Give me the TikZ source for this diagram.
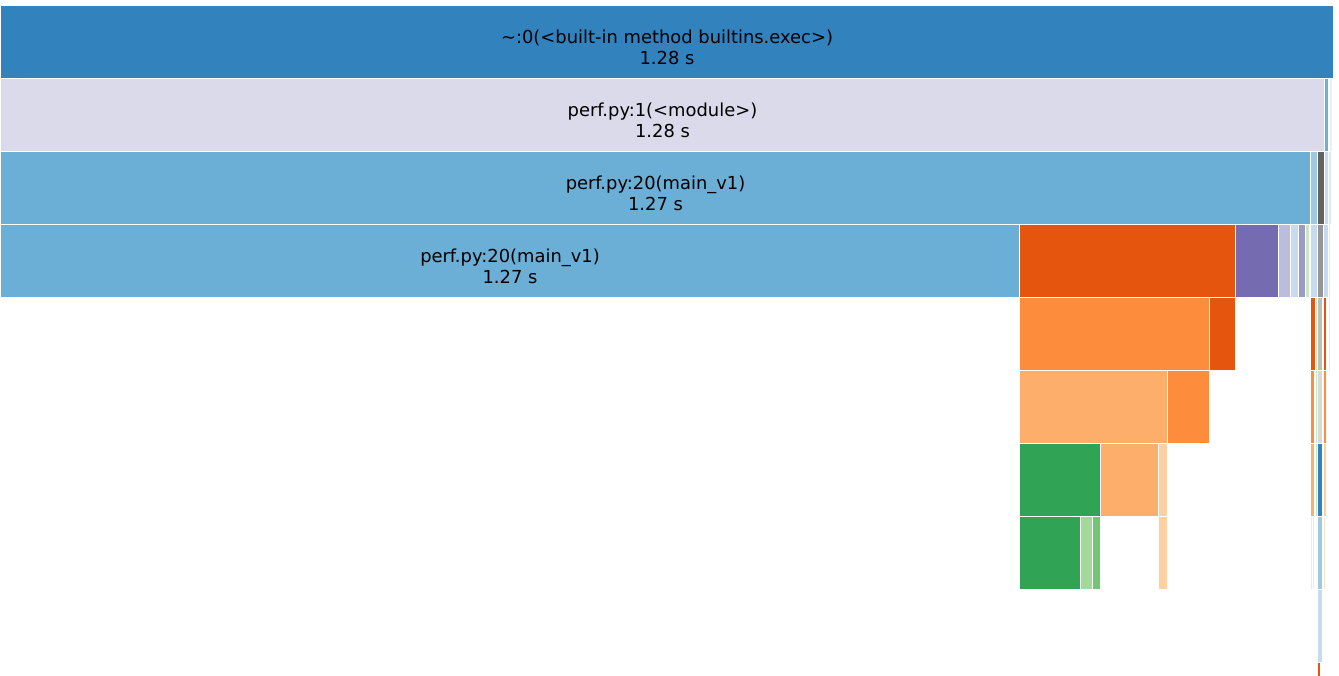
\documentclass[tikz,border=0pt]{standalone}
\usepackage{fontspec}
\setmainfont{DejaVu Sans}
\definecolor{cA}{HTML}{3182BD}
\definecolor{cB}{HTML}{DADAEB}
\definecolor{cC}{HTML}{6BAED6}
\definecolor{cD}{HTML}{E6550D}
\definecolor{cE}{HTML}{756BB1}
\definecolor{cF}{HTML}{BCBDDC}
\definecolor{cG}{HTML}{C6DBEF}
\definecolor{cH}{HTML}{9E9AC8}
\definecolor{cI}{HTML}{C7E9C0}
\definecolor{cJ}{HTML}{969696}
\definecolor{cK}{HTML}{636363}
\definecolor{cL}{HTML}{9ECAE1}
\definecolor{cM}{HTML}{FD8D3C}
\definecolor{cN}{HTML}{BDBDBD}
\definecolor{cO}{HTML}{FDAE6B}
\definecolor{cP}{HTML}{D9D9D9}
\definecolor{cQ}{HTML}{31A354}
\definecolor{cR}{HTML}{FDD0A2}
\definecolor{cS}{HTML}{A1D99B}
\definecolor{cT}{HTML}{74C476}
\definecolor{cU}{HTML}{DEEBF7}
\definecolor{cV}{HTML}{FEE6CE}
\definecolor{cW}{HTML}{EFEDF5}
\newcommand\bx[4]{\filldraw[cell,fill=#4] (#1,{5+73*#3}) rectangle (#2,{78+73*#3});}
\begin{document}
\begin{tikzpicture}[x=1pt,y=-1pt,
  cell/.style={draw=white,line width=1pt},
  lbl/.style={align=center,inner sep=0pt,text=black,font=\fontsize{17.9}{21.3}\selectfont}]
\useasboundingbox (0,0) rectangle (1339,675);
\clip (0,0) rectangle (1339,675);
% row 0
\bx{0.5}{1333.5}{0}{cA}
% row 1
\bx{0.5}{1324.5}{1}{cB}
\bx{1324.5}{1328.8}{1}{cC}
\bx{1329.8}{1332.6}{1}{cW}
% row 2
\bx{0.5}{1310.5}{2}{cC}
\bx{1310.5}{1317.2}{2}{cL}
\bx{1317.2}{1324.2}{2}{cK}
\bx{1324.2}{1328.6}{2}{cG}
\bx{1328.6}{1331}{2}{cU}
% row 3
\bx{0.5}{1019.5}{3}{cC}
\bx{1019.5}{1235.5}{3}{cD}
\bx{1235.5}{1278.8}{3}{cE}
\bx{1278.8}{1290.3}{3}{cF}
\bx{1290.3}{1298.8}{3}{cG}
\bx{1298.8}{1305.5}{3}{cH}
\bx{1305.5}{1309.8}{3}{cI}
\bx{1310.3}{1317.2}{3}{cG}
\bx{1317.2}{1323.8}{3}{cJ}
\bx{1323.8}{1328.6}{3}{cG}
\bx{1328.6}{1330.8}{3}{cU}
% row 4
\bx{1019.5}{1209.8}{4}{cM}
\bx{1209.8}{1235.5}{4}{cD}
\bx{1310.5}{1315.4}{4}{cD}
\bx{1315.4}{1317.2}{4}{cI}
\bx{1317.2}{1322.8}{4}{cN}
\bx{1323.8}{1326.6}{4}{cD}
\bx{1328.4}{1330.4}{4}{cV}
% row 5
\bx{1019.5}{1167.8}{5}{cO}
\bx{1167.8}{1209.8}{5}{cM}
\bx{1310.5}{1314.6}{5}{cM}
\bx{1315.2}{1317.2}{5}{cI}
\bx{1317.2}{1322.8}{5}{cP}
\bx{1323.8}{1326.4}{5}{cM}
% row 6
\bx{1019.5}{1100.2}{6}{cQ}
\bx{1100.2}{1158.2}{6}{cO}
\bx{1158.2}{1167.8}{6}{cR}
\bx{1310.5}{1314.6}{6}{cO}
\bx{1315.2}{1317.2}{6}{cI}
\bx{1317.2}{1322.8}{6}{cA}
\bx{1323.8}{1326.2}{6}{cR}
% row 7
\bx{1019.5}{1080.8}{7}{cQ}
\bx{1080.8}{1092.4}{7}{cS}
\bx{1092.4}{1100.2}{7}{cT}
\bx{1158.2}{1167.8}{7}{cR}
\bx{1310.5}{1312.4}{7}{cV}
\bx{1312.6}{1314.4}{7}{cV}
\bx{1317.2}{1322.8}{7}{cL}
\bx{1323.8}{1325.8}{7}{cV}
% row 8
\bx{1317.2}{1322.8}{8}{cG}
% row 9
\bx{1317.2}{1320.6}{9}{cD}
% labels
\node[lbl] (t0) at (667,47.5) {\textasciitilde:0(<built-in method builtins.exec>)\\1.28 s};
\node[lbl] (t1) at (662.5,120.5) {perf.py:1(<module>)\\1.28 s};
\node[lbl] (t2) at (655.5,193.5) {perf.py:20(main\_v1)\\1.27 s};
\node[lbl] (t3) at (510,266.5) {perf.py:20(main\_v1)\\1.27 s};
\end{tikzpicture}
\end{document}
